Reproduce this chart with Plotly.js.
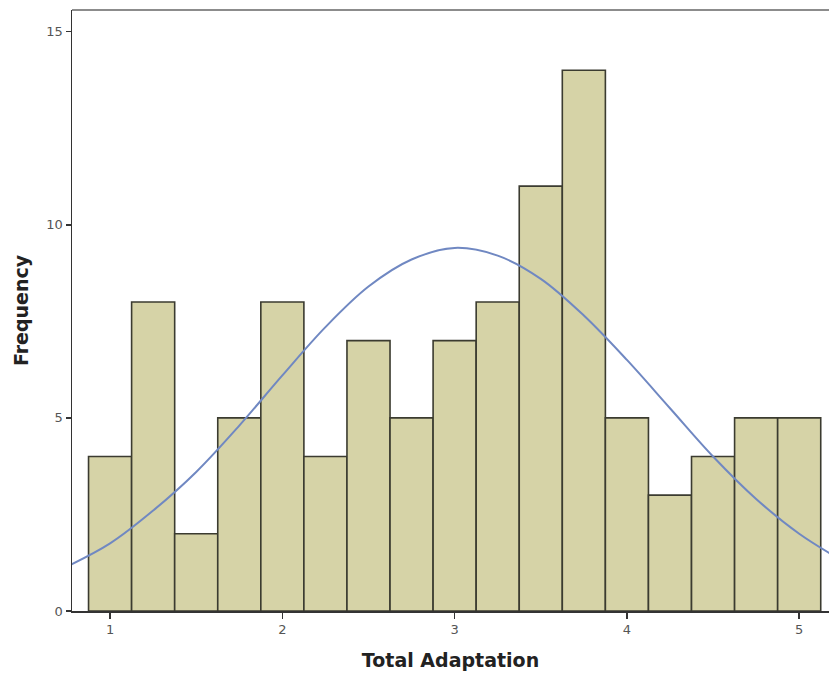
<!DOCTYPE html>
<html>
<head>
<meta charset="utf-8">
<script src="https://cdn.plot.ly/plotly-3.0.1.min.js"></script>
<style>html,body{margin:0;padding:0;background:#fff;}#chart{width:829px;height:675px;}</style>
</head>
<body>
<div id="chart"></div>
<script>
// Histogram bins (centres) and frequencies
const binCenters = [1.0, 1.25, 1.5, 1.75, 2.0, 2.25, 2.5, 2.75, 3.0, 3.25, 3.5, 3.75, 4.0, 4.25, 4.5, 4.75, 5.0];
const frequencies = [4, 8, 2, 5, 8, 4, 7, 5, 7, 8, 11, 14, 5, 3, 4, 5, 5];

// Normal curve
const curveX = [0.75, 1.0, 1.25, 1.5, 1.75, 2.0, 2.25, 2.5, 2.75, 3.0, 3.25, 3.5, 3.75, 4.0, 4.25, 4.5, 4.75, 5.0, 5.25];
const curveY = [1.15, 1.75, 2.6, 3.6, 4.8, 6.1, 7.35, 8.4, 9.1, 9.4, 9.2, 8.6, 7.65, 6.5, 5.25, 4.0, 2.9, 2.0, 1.3];

const xTicks = [1, 2, 3, 4, 5];
const yTicks = [0, 5, 10, 15];

const FONT = '"DejaVu Sans", "Liberation Sans", sans-serif';

const traces = [
  {
    type: 'bar',
    x: binCenters,
    y: frequencies,
    width: 0.25,
    marker: {color: '#d6d3a7', line: {color: '#3b3b30', width: 1.6}},
    hoverinfo: 'x+y'
  },
  {
    type: 'scatter',
    mode: 'lines',
    x: curveX,
    y: curveY,
    line: {color: '#7088c2', width: 2, shape: 'spline', smoothing: 1},
    hoverinfo: 'skip'
  }
];

const layout = {
  width: 829,
  height: 675,
  margin: {l: 72, r: 0, t: 10, b: 64},
  paper_bgcolor: '#ffffff',
  plot_bgcolor: '#ffffff',
  showlegend: false,
  bargap: 0,
  font: {family: FONT, color: '#333'},
  xaxis: {
    range: [0.779, 5.173],
    tickvals: xTicks,
    ticktext: xTicks.map(String),
    ticks: 'outside',
    ticklen: 6,
    tickwidth: 1.5,
    tickcolor: '#333',
    showgrid: false,
    zeroline: false,
    showline: true,
    linecolor: '#333',
    linewidth: 1.5,
    tickfont: {size: 13, color: '#555', family: FONT},
    title: {text: 'Total Adaptation', font: {size: 19, color: '#222', family: FONT, weight: 'bold'}, standoff: 17}
  },
  yaxis: {
    range: [0, 15.56],
    tickvals: yTicks,
    ticktext: yTicks.map(String),
    ticks: 'outside',
    ticklen: 5,
    tickwidth: 1.5,
    tickcolor: '#333',
    showgrid: false,
    zeroline: false,
    showline: true,
    linecolor: '#333',
    linewidth: 1.5,
    tickfont: {size: 13, color: '#555', family: FONT},
    title: {text: 'Frequency', font: {size: 19, color: '#222', family: FONT, weight: 'bold'}, standoff: 12}
  },
  shapes: [
    {type: 'line', xref: 'paper', yref: 'paper', x0: 0, x1: 1, y0: 1, y1: 1, line: {color: '#8c8c8c', width: 2}}
  ]
};

Plotly.newPlot('chart', traces, layout, {displayModeBar: false, staticPlot: true});
</script>
</body>
</html>
